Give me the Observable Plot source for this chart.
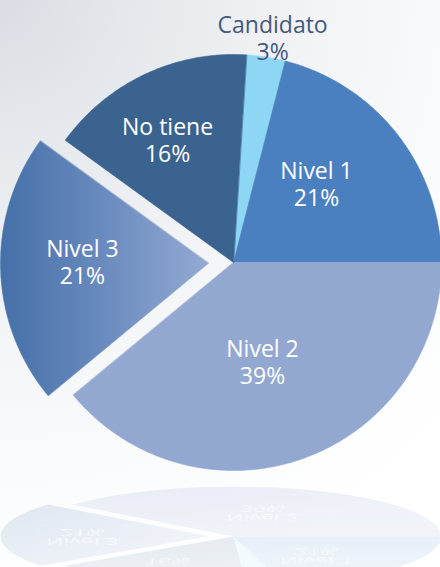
<!DOCTYPE html>
<html><head><meta charset="utf-8">
<script src="https://cdn.jsdelivr.net/npm/d3@7"></script>
<script src="https://cdn.jsdelivr.net/npm/@observablehq/plot@0.6"></script>
<style>
html,body{margin:0;padding:0;background:#fff;}
#chart{width:440px;height:567px;overflow:hidden;
  background: radial-gradient(circle at 0% 0%, #dadee4 0px, #e9ecef 190px, #f4f5f7 340px, #fafbfc 470px, #ffffff 620px);}
</style></head><body><div id="chart"></div>
<script>
// ---- data ----
const categories = ["Candidato", "Nivel 1", "Nivel 2", "Nivel 3", "No tiene"];
const shares = [3, 21, 39, 21, 16];
const percentLabels = ["3%", "21%", "39%", "21%", "16%"];
const explodedCategory = "Nivel 3";

// ---- layout / style ----
const W = 440, H = 567, CX = 233, CY = 262, R = 208;
const startDeg = 3.6;            // first slice angle (clockwise from 12 o'clock)
const explodePx = 25;
const sliceColors = {
  "Candidato": "#8dd6f4",
  "Nivel 1": "#4a80bf",
  "Nivel 2": "#93a8d0",
  "Nivel 3": "url(#gradNivel3)",
  "No tiene": "#3b638f"
};
const labelLayout = {
  "Candidato": {r: 1.094, nudge: 0.9, outside: true},
  "Nivel 1":   {r: 0.551, nudge: -5.8},
  "Nivel 2":   {r: 0.497, nudge: 3.5},
  "Nivel 3":   {r: 0.606, nudge: 2.3},
  "No tiene":  {r: 0.671, nudge: -3}
};
const reflCenterPx = 536, squash = 0.24;

const total = d3.sum(shares);
const rad = Math.PI / 180;
const pol = (deg, r) => [r * Math.sin(deg * rad), r * Math.cos(deg * rad)];
let acc = 0;
const slices = categories.map((name, i) => {
  const a0 = startDeg + acc / total * 360; acc += shares[i];
  const a1 = startDeg + acc / total * 360;
  return {name, value: shares[i], pct: percentLabels[i], a0, a1, mid: (a0 + a1) / 2,
          ex: name === explodedCategory ? explodePx / R : 0};
});
const pts = [];
slices.forEach(s => {
  const [ox, oy] = pol(s.mid, s.ex);
  pts.push({name: s.name, x: ox, y: oy});
  const n = Math.max(2, Math.ceil((s.a1 - s.a0) / 0.5));
  for (let k = 0; k <= n; k++) {
    const a = s.a0 + (s.a1 - s.a0) * k / n;
    const [px, py] = pol(a, 1);
    pts.push({name: s.name, x: ox + px, y: oy + py});
  }
});
const reflC = -(reflCenterPx - CY) / R;
const reflPts = pts.map(p => ({...p, y: reflC - squash * p.y}));
const labels = slices.map(s => {
  const L = labelLayout[s.name];
  const [ox, oy] = pol(s.mid, s.ex);
  const [lx, ly] = pol(s.mid + L.nudge, L.r);
  return {...s, x: ox + lx, y: oy + ly, text: s.name + "\n" + s.pct, outside: !!L.outside};
});
const reflLabels = labels.filter(d => !d.outside).map(l => ({...l, y: reflC - squash * l.y}));

const font = "'Open Sans', sans-serif";
const textOpts = {x: "x", y: "y", text: "text", fontSize: 23, lineHeight: 1.17, lineAnchor: "middle", fontFamily: font};

const plot = Plot.plot({
  width: W, height: H, margin: 0,
  x: {domain: [-CX / R, (W - CX) / R], axis: null},
  y: {domain: [-(H - CY) / R, CY / R], axis: null},
  color: {domain: categories, range: categories.map(c => sliceColors[c])},
  style: {background: "transparent", fontFamily: font, overflow: "hidden"},
  marks: [
    Plot.line(reflPts, {x: "x", y: "y", z: "name", fill: "name", stroke: "none", curve: "linear-closed", fillOpacity: 0.17, ariaDescription: "reflection-slices"}),
    Plot.text(reflLabels, {...textOpts, fill: "white", fillOpacity: 0.6, ariaDescription: "reflection"}),
    Plot.line(pts, {x: "x", y: "y", z: "name", fill: "name", stroke: "name", strokeWidth: 0.6, curve: "linear-closed"}),
    Plot.text(labels.filter(d => !d.outside), {...textOpts, fill: "white"}),
    Plot.text(labels.filter(d => d.outside), {...textOpts, fill: "#45587e"})
  ]
});

const svg = d3.select(plot);
const defs = svg.insert("defs", ":first-child");
// gradient for the exploded slice
const g = defs.append("linearGradient").attr("id", "gradNivel3")
  .attr("x1", "0").attr("y1", "0").attr("x2", "1").attr("y2", "0");
g.append("stop").attr("offset", "0").attr("stop-color", "#4570a9");
g.append("stop").attr("offset", "0.5").attr("stop-color", "#6a8bbe");
g.append("stop").attr("offset", "1").attr("stop-color", "#93aad3");
// fade for the reflection
const fg = defs.append("linearGradient").attr("id", "fadeGrad")
  .attr("x1", "0").attr("y1", "0").attr("x2", "0").attr("y2", "1");
fg.append("stop").attr("offset", "0").attr("stop-color", "#fff");
fg.append("stop").attr("offset", "1").attr("stop-color", "#777");
const mask = defs.append("mask").attr("id", "fadeMask")
  .attr("maskUnits", "objectBoundingBox").attr("maskContentUnits", "objectBoundingBox");
mask.append("rect").attr("x", 0).attr("y", 0).attr("width", 1).attr("height", 1).attr("fill", "url(#fadeGrad)");
svg.select("g[aria-description=reflection-slices]").attr("mask", "url(#fadeMask)");

// mirror the reflection text
svg.selectAll("g[aria-description=reflection] text").each(function() {
  const t = this.getAttribute("transform");
  if (t) this.setAttribute("transform", t + " scale(1,-0.35)");
});

document.getElementById("chart").appendChild(plot);
</script></body></html>
